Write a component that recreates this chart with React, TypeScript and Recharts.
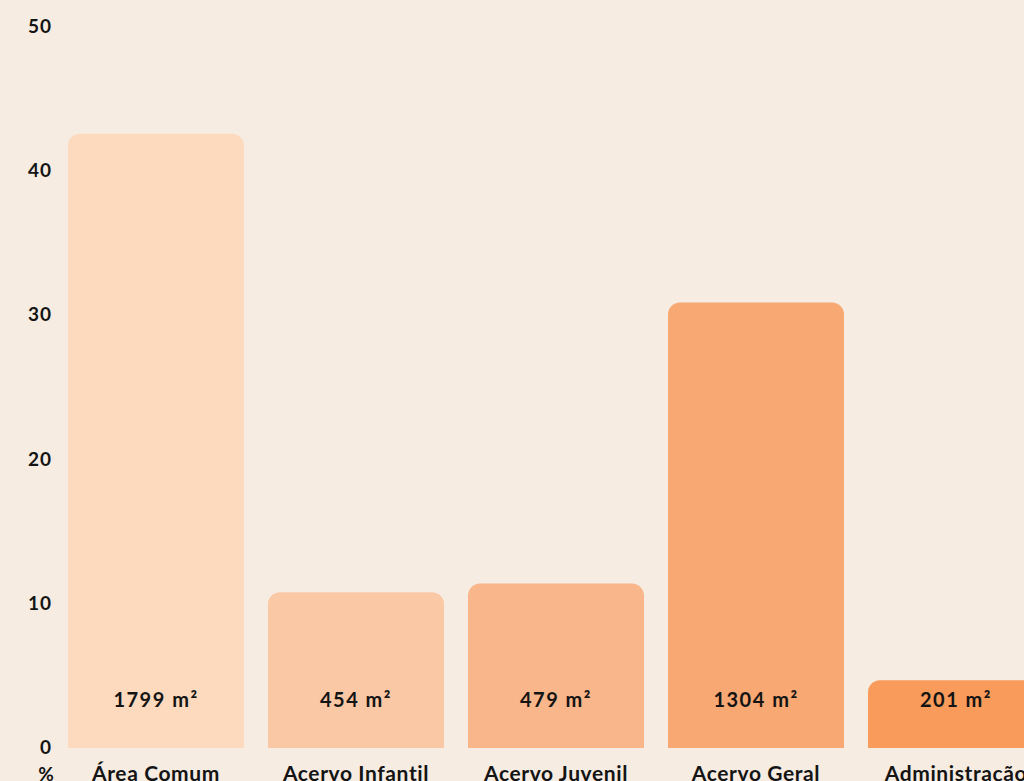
import { BarChart, Bar, XAxis, YAxis, Cell, LabelList } from 'recharts';

const categories = ['Área Comum', 'Acervo Infantil', 'Acervo Juvenil', 'Acervo Geral', 'Administração'];
const percentValues = [42.6, 10.8, 11.4, 30.9, 4.7];
const areaLabels = ['1799 m²', '454 m²', '479 m²', '1304 m²', '201 m²'];
const yTicks = [0, 10, 20, 30, 40, 50];

const barColors = ['#fdd9bd', '#fac8a5', '#f8b68a', '#f8a872', '#f99b5a'];
const BG = '#f6ece2';
const INK = '#141414';
const FONT = 'Lato, "Open Sans", sans-serif';

const data = categories.map((name, i) => ({
  name,
  percent: percentValues[i],
  area: areaLabels[i],
}));

const YTick = ({ x, y, payload }: any) => (
  <g>
    <text x={x} y={y} dy={6} textAnchor="end" fill={INK} fontSize={19} fontWeight={700} fontFamily={FONT} letterSpacing={1}>
      {payload.value}
    </text>
    {payload.value === 0 && (
      <text x={x - 6} y={y + 33} textAnchor="middle" fill={INK} fontSize={19} fontWeight={700} fontFamily={FONT}>
        %
      </text>
    )}
  </g>
);

const XTick = ({ x, y, payload }: any) => (
  <text x={x} y={y + 25} textAnchor="middle" fill={INK} fontSize={21} fontWeight={700} fontFamily={FONT} letterSpacing={0.6}>
    {payload.value}
  </text>
);

// area label sits near the bottom of each bar
const AreaLabel = ({ x, y, width, height, value }: any) => (
  <text
    x={x + width / 2}
    y={y + height - 41}
    textAnchor="middle"
    fill={INK}
    fontSize={20}
    fontWeight={700}
    fontFamily={FONT}
    letterSpacing={1.5}
  >
    {value}
  </text>
);

export default function App() {
  return (
    <div
      style={{
        position: 'fixed',
        top: 0,
        left: 0,
        width: 1024,
        height: 781,
        overflow: 'hidden',
        background: BG,
      }}
    >
      <BarChart
        width={1080}
        height={800}
        data={data}
        margin={{ top: 27, right: 24, left: 0, bottom: 12 }}
      >
        <XAxis
          dataKey="name"
          height={40}
          axisLine={false}
          tickLine={false}
          tick={<XTick />}
          interval={0}
        />
        <YAxis
          width={56}
          domain={[0, 50]}
          ticks={yTicks}
          axisLine={false}
          tickLine={false}
          tickSize={4}
          tickMargin={0}
          tick={<YTick />}
          interval={0}
        />
        <Bar dataKey="percent" barSize={176} radius={[12, 12, 0, 0]} isAnimationActive={false}>
          {data.map((d, i) => (
            <Cell key={d.name} fill={barColors[i]} />
          ))}
          <LabelList dataKey="area" content={<AreaLabel />} />
        </Bar>
      </BarChart>
    </div>
  );
}
